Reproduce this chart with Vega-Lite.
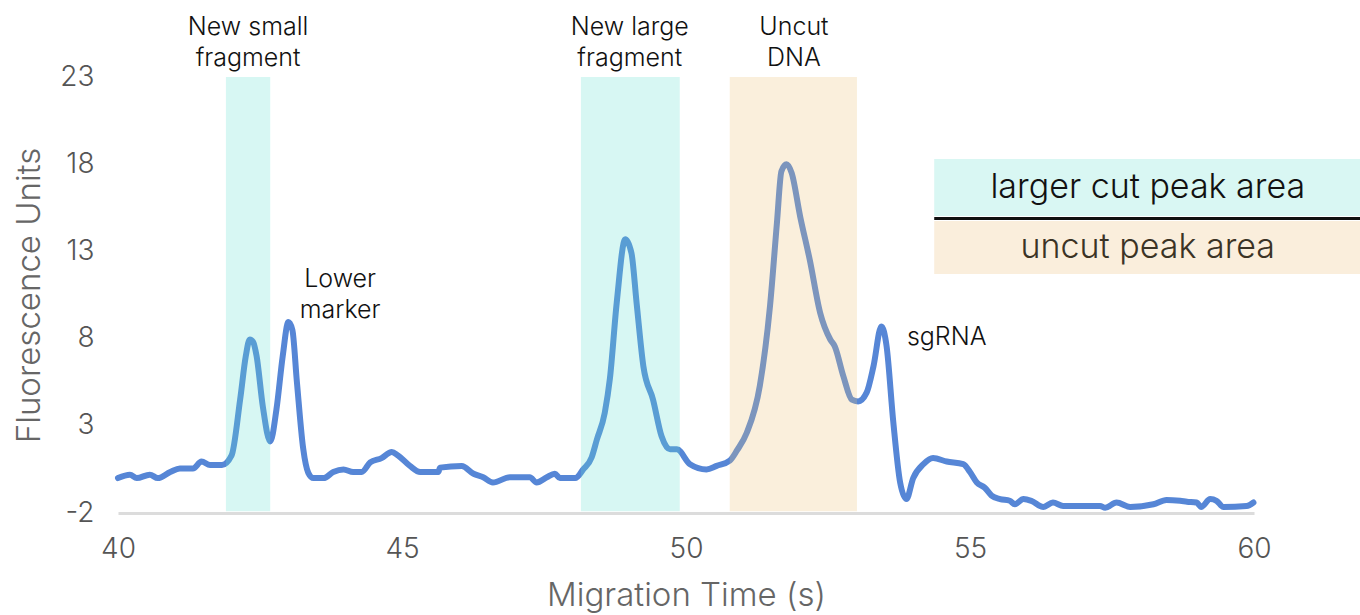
{
  "$schema": "https://vega.github.io/schema/vega-lite/v6.json",
  "autosize": {"type": "none"},
  "width": 1136,
  "height": 436,
  "padding": {"left": 118, "top": 77, "right": 106, "bottom": 102},
  "background": "white",
  "config": {
    "view": {"stroke": null},
    "font": "Inter",
    "text": {"font": "Inter", "fontWeight": 300}
  },
  "resolve": {"scale": {"color": "independent", "fill": "independent"}},
  "datasets": {
    "trace": [
      {"t": 40.0, "v": 0}, {"t": 40.21, "v": 0.2}, {"t": 40.33, "v": 0}, {"t": 40.56, "v": 0.2},
      {"t": 40.7, "v": 0}, {"t": 40.92, "v": 0.35}, {"t": 41.09, "v": 0.55}, {"t": 41.32, "v": 0.55},
      {"t": 41.47, "v": 0.95}, {"t": 41.62, "v": 0.75}, {"t": 41.83, "v": 0.75}, {"t": 42.0, "v": 1.3},
      {"t": 42.15, "v": 4.5}, {"t": 42.25, "v": 7.0}, {"t": 42.32, "v": 7.95}, {"t": 42.38, "v": 7.8},
      {"t": 42.44, "v": 7.0}, {"t": 42.55, "v": 4.1}, {"t": 42.68, "v": 2.1}, {"t": 42.79, "v": 3.95},
      {"t": 42.9, "v": 7.0}, {"t": 43.0, "v": 8.95}, {"t": 43.07, "v": 8.5}, {"t": 43.15, "v": 5.5},
      {"t": 43.26, "v": 1.7}, {"t": 43.35, "v": 0.3}, {"t": 43.44, "v": 0}, {"t": 43.62, "v": 0},
      {"t": 43.79, "v": 0.35}, {"t": 43.97, "v": 0.5}, {"t": 44.14, "v": 0.35}, {"t": 44.29, "v": 0.35},
      {"t": 44.44, "v": 0.9}, {"t": 44.64, "v": 1.15}, {"t": 44.82, "v": 1.5}, {"t": 44.93, "v": 1.3},
      {"t": 45.14, "v": 0.7}, {"t": 45.32, "v": 0.35}, {"t": 45.64, "v": 0.35}, {"t": 45.67, "v": 0.6},
      {"t": 46.05, "v": 0.7}, {"t": 46.26, "v": 0.25}, {"t": 46.43, "v": 0.05}, {"t": 46.6, "v": -0.25},
      {"t": 46.9, "v": 0.05}, {"t": 47.25, "v": 0.05}, {"t": 47.37, "v": -0.25}, {"t": 47.55, "v": 0.05},
      {"t": 47.69, "v": 0.25}, {"t": 47.78, "v": 0}, {"t": 48.05, "v": 0}, {"t": 48.19, "v": 0.5},
      {"t": 48.34, "v": 1.2}, {"t": 48.43, "v": 2.2}, {"t": 48.57, "v": 3.75}, {"t": 48.66, "v": 5.7},
      {"t": 48.78, "v": 10.05}, {"t": 48.93, "v": 13.7}, {"t": 49.04, "v": 12.9}, {"t": 49.13, "v": 10.05},
      {"t": 49.25, "v": 6.4}, {"t": 49.42, "v": 4.5}, {"t": 49.57, "v": 2.4}, {"t": 49.72, "v": 1.65},
      {"t": 49.84, "v": 1.65}, {"t": 50.07, "v": 0.8}, {"t": 50.36, "v": 0.5}, {"t": 50.54, "v": 0.7},
      {"t": 50.77, "v": 1.0}, {"t": 50.9, "v": 1.6}, {"t": 51.07, "v": 2.6}, {"t": 51.3, "v": 5.3},
      {"t": 51.48, "v": 9.9}, {"t": 51.6, "v": 14.6}, {"t": 51.68, "v": 17.6}, {"t": 51.77, "v": 18.0},
      {"t": 51.86, "v": 17.5}, {"t": 52.01, "v": 15.0}, {"t": 52.18, "v": 12.5}, {"t": 52.36, "v": 9.5},
      {"t": 52.54, "v": 7.95}, {"t": 52.62, "v": 7.55}, {"t": 52.77, "v": 5.85}, {"t": 52.92, "v": 4.5},
      {"t": 53.03, "v": 4.4}, {"t": 53.18, "v": 4.9}, {"t": 53.3, "v": 6.4}, {"t": 53.44, "v": 8.7},
      {"t": 53.53, "v": 7.6}, {"t": 53.65, "v": 3.2}, {"t": 53.77, "v": -0.25}, {"t": 53.88, "v": -1.2},
      {"t": 54.0, "v": 0}, {"t": 54.18, "v": 0.8}, {"t": 54.35, "v": 1.15}, {"t": 54.59, "v": 0.95},
      {"t": 54.88, "v": 0.8}, {"t": 55.0, "v": 0.35}, {"t": 55.12, "v": -0.25}, {"t": 55.26, "v": -0.55},
      {"t": 55.38, "v": -1.0}, {"t": 55.53, "v": -1.2}, {"t": 55.7, "v": -1.3}, {"t": 55.79, "v": -1.5},
      {"t": 55.94, "v": -1.2}, {"t": 56.08, "v": -1.3}, {"t": 56.29, "v": -1.65}, {"t": 56.46, "v": -1.4},
      {"t": 56.64, "v": -1.6}, {"t": 57.29, "v": -1.6}, {"t": 57.38, "v": -1.7}, {"t": 57.58, "v": -1.4},
      {"t": 57.82, "v": -1.65}, {"t": 58.23, "v": -1.5}, {"t": 58.46, "v": -1.25}, {"t": 58.7, "v": -1.3},
      {"t": 58.82, "v": -1.35}, {"t": 58.99, "v": -1.4}, {"t": 59.07, "v": -1.65}, {"t": 59.23, "v": -1.2},
      {"t": 59.34, "v": -1.3}, {"t": 59.46, "v": -1.65}, {"t": 59.87, "v": -1.6}, {"t": 59.99, "v": -1.4}
    ],
    "bands": [
      {"start": 41.9, "end": 42.68, "kind": "cut"},
      {"start": 48.15, "end": 49.89, "kind": "cut"},
      {"start": 50.77, "end": 53.01, "kind": "uncut"}
    ],
    "legendBoxes": [
      {"x1": 54.37, "x2": 61.87, "top": 18.3, "bottom": 15.03, "kind": "cut", "label": "larger cut peak area", "ly": 16.64},
      {"x1": 54.37, "x2": 61.87, "top": 14.74, "bottom": 11.7, "kind": "uncut", "label": "uncut peak area", "ly": 13.19}
    ],
    "notes": [
      {"t": 42.29, "v": 25.87, "label": ["New small", "fragment"]},
      {"t": 49.01, "v": 25.87, "label": ["New large", "fragment"]},
      {"t": 51.9, "v": 25.87, "label": ["Uncut", "DNA"]},
      {"t": 43.91, "v": 11.4, "label": ["Lower", "marker"]},
      {"t": 54.59, "v": 8.09, "label": ["sgRNA"]}
    ]
  },
  "layer": [
    {
      "data": {"name": "trace"},
      "mark": {"type": "line", "interpolate": "monotone", "color": "#5686d6", "strokeWidth": 6, "strokeCap": "round", "strokeJoin": "round"},
      "encoding": {
        "x": {
          "field": "t", "type": "quantitative",
          "scale": {"domain": [40, 60], "nice": false, "zero": false},
          "axis": {
            "values": [40, 45, 50, 55, 60], "labelExpr": "'' + datum.value", "labelFlush": false, "title": "Migration Time (s)", "grid": false, "ticks": false,
            "domainColor": "#dcdcdc", "domainWidth": 3,
            "labelFontSize": 28, "labelFont": "Inter", "labelFontWeight": 300, "labelColor": "#555555", "labelPadding": 22,
            "titleFontSize": 33, "titleFont": "Inter", "titleFontWeight": 300, "titleColor": "#666666", "titlePadding": 16
          }
        },
        "y": {
          "field": "v", "type": "quantitative",
          "scale": {"domain": [-2, 23], "nice": false, "zero": false},
          "axis": {
            "values": [-2, 3, 8, 13, 18, 23], "labelExpr": "'' + datum.value", "labelFlush": false, "title": "Fluorescence Units", "grid": false, "ticks": false, "domain": false,
            "labelFontSize": 28, "labelFont": "Inter", "labelFontWeight": 300, "labelColor": "#555555", "labelPadding": 24,
            "titleFontSize": 33, "titleFont": "Inter", "titleFontWeight": 300, "titleColor": "#666666", "titlePadding": 13
          }
        }
      }
    },
    {
      "data": {"name": "bands"},
      "mark": {"type": "rect", "opacity": 0.26},
      "encoding": {
        "x": {"field": "start", "type": "quantitative"},
        "x2": {"field": "end"},
        "y": {"datum": -1.9},
        "y2": {"datum": 23},
        "color": {"field": "kind", "type": "nominal", "scale": {"domain": ["cut", "uncut"], "range": ["#63dfcf", "#ecc176"]}, "legend": null}
      }
    },
    {
      "data": {"name": "legendBoxes"},
      "mark": {"type": "rect"},
      "encoding": {
        "x": {"field": "x1", "type": "quantitative"},
        "x2": {"field": "x2"},
        "y": {"field": "top", "type": "quantitative"},
        "y2": {"field": "bottom"},
        "fill": {"field": "kind", "type": "nominal", "scale": {"domain": ["cut", "uncut"], "range": ["#d9f7f3", "#faeedc"]}, "legend": null}
      }
    },
    {
      "data": {"values": [{"x1": 54.37, "x2": 61.87, "v": 14.88}]},
      "mark": {"type": "rule", "color": "#111111", "strokeWidth": 3},
      "encoding": {
        "x": {"field": "x1", "type": "quantitative"},
        "x2": {"field": "x2"},
        "y": {"field": "v", "type": "quantitative"}
      }
    },
    {
      "data": {"name": "legendBoxes"},
      "mark": {"type": "text", "fontSize": 34, "fontWeight": 300, "baseline": "middle", "align": "center"},
      "encoding": {
        "x": {"datum": 58.13},
        "y": {"field": "ly", "type": "quantitative"},
        "text": {"field": "label"},
        "fill": {"field": "kind", "type": "nominal", "scale": {"domain": ["cut", "uncut"], "range": ["#111111", "#3b3325"]}, "legend": null}
      }
    },
    {
      "data": {"name": "notes"},
      "mark": {"type": "text", "fontSize": 25, "fontWeight": 300, "baseline": "middle", "align": "center", "lineHeight": 31, "color": "#111111"},
      "encoding": {
        "x": {"field": "t", "type": "quantitative"},
        "y": {"field": "v", "type": "quantitative"},
        "text": {"field": "label"}
      }
    }
  ]
}
